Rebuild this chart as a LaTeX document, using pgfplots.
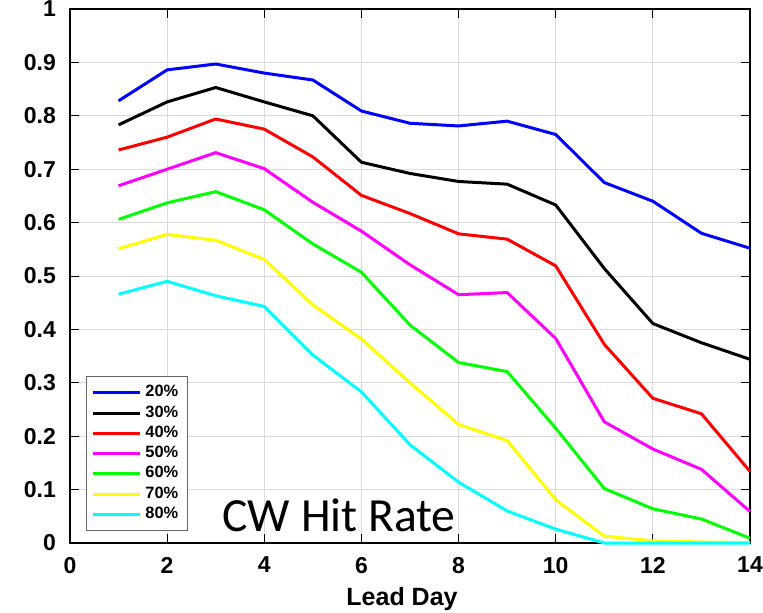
\documentclass[border=0pt]{standalone}
\usepackage{fontspec}
\setmainfont{Liberation Sans}
\newfontfamily\calibri{Carlito}
\usepackage{pgfplots}
\pgfplotsset{compat=1.18}
\definecolor{cBlue}{RGB}{0,0,255}
\definecolor{cRed}{RGB}{255,0,0}
\definecolor{cMag}{RGB}{255,0,255}
\definecolor{cGreen}{RGB}{0,255,0}
\definecolor{cYel}{RGB}{255,255,0}
\definecolor{cCyan}{RGB}{0,255,255}
\begin{document}
\begin{tikzpicture}
\begin{axis}[
  name=ax, at={(0,0)}, anchor=south west,
  scale only axis, width=340pt, height=267pt,
  xmin=0, xmax=14, ymin=0, ymax=1,
  xtick={0,2,...,14}, ytick={0,0.1,...,1},
  yticklabels={0,0.1,0.2,0.3,0.4,0.5,0.6,0.7,0.8,0.9,1},
  /pgf/number format/assume math mode=true,
  tick label style={font=\fontsize{11.5}{14}\selectfont\bfseries},
  xticklabel style={yshift=-3.5pt},
  yticklabel style={xshift=-3.5pt},
  xlabel={Lead Day},
  xlabel style={font=\fontsize{12.5}{15}\selectfont\bfseries, yshift=0pt, xshift=-4pt},
  grid=major, major grid style={draw=black!14, line width=0.5pt},
  tick align=inside, major tick length=4.5pt,
  tick style={black, line width=0.5pt},
  axis line style={black, line width=0.6pt},
  clip=false,
  legend style={at={(rel axis cs:0.0235,0.0225)}, anchor=south west,
    draw=black!60, line width=0.5pt, fill=white,
    font=\fontsize{8.2}{9}\selectfont\bfseries,
    row sep=-1.1pt, inner xsep=2.5pt, inner ysep=2.5pt},
  legend cell align=left,
  legend image code/.code={\draw[#1, line width=1.5pt] (0pt,0pt) -- (23.5pt,0pt);},
  every axis plot/.append style={line width=1.5pt, line join=round},
]
\addplot[cBlue] coordinates {(1,0.828)(2,0.886)(3,0.897)(4,0.880)(5,0.867)(6,0.809)(7,0.786)(8,0.781)(9,0.790)(10,0.765)(11,0.675)(12,0.640)(13,0.580)(14,0.552)};
\addplot[black] coordinates {(1,0.783)(2,0.826)(3,0.853)(4,0.826)(5,0.800)(6,0.713)(7,0.692)(8,0.677)(9,0.672)(10,0.633)(11,0.514)(12,0.411)(13,0.375)(14,0.344)};
\addplot[cRed] coordinates {(1,0.736)(2,0.760)(3,0.794)(4,0.775)(5,0.723)(6,0.651)(7,0.617)(8,0.579)(9,0.569)(10,0.519)(11,0.372)(12,0.271)(13,0.242)(14,0.134)};
\addplot[cMag] coordinates {(1,0.669)(2,0.700)(3,0.731)(4,0.701)(5,0.638)(6,0.584)(7,0.521)(8,0.465)(9,0.469)(10,0.383)(11,0.227)(12,0.176)(13,0.138)(14,0.059)};
\addplot[cGreen] coordinates {(1,0.606)(2,0.637)(3,0.658)(4,0.624)(5,0.560)(6,0.507)(7,0.408)(8,0.338)(9,0.321)(10,0.215)(11,0.102)(12,0.064)(13,0.045)(14,0.009)};
\addplot[cYel] coordinates {(1,0.551)(2,0.578)(3,0.567)(4,0.531)(5,0.446)(6,0.382)(7,0.300)(8,0.222)(9,0.192)(10,0.081)(11,0.013)(12,0.004)(13,0.002)(14,0.001)};
\addplot[cCyan] coordinates {(1,0.466)(2,0.490)(3,0.463)(4,0.443)(5,0.352)(6,0.283)(7,0.184)(8,0.114)(9,0.060)(10,0.026)(11,0)(12,0)(13,0)(14,0)};
\legend{20\%,30\%,40\%,50\%,60\%,70\%,80\%}
\node[anchor=base, font=\calibri\fontsize{23.8}{28}\selectfont] at (axis cs:5.54,0.021) {CW Hit Rate};
\end{axis}
\pgfresetboundingbox
\path[use as bounding box] (-35pt,-34.5pt) rectangle (346.5pt,271.5pt);
\end{tikzpicture}
\end{document}
